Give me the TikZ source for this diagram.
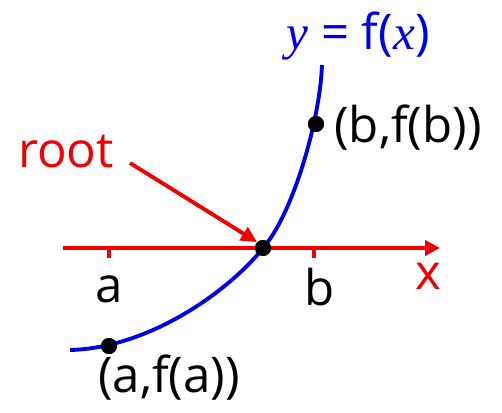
\documentclass[tikz,border=0pt]{standalone}
\usepackage{fontspec}
\setmainfont{Open Sans}
\newfontfamily\serifit{Liberation Serif}
\usetikzlibrary{arrows.meta}
\definecolor{myred}{RGB}{240,0,0}
\definecolor{myblue}{RGB}{0,0,230}
\begin{document}
\begin{tikzpicture}[x=0.02cm,y=-0.02cm,
  lbl/.style={inner sep=0pt,font=\fontsize{28}{32}\selectfont},
  dot/.style={circle,fill=black,inner sep=0pt,minimum size=0.32cm},
  axis/.style={myred,line width=2.2pt},
  curve/.style={myblue,line width=2.2pt}]
\useasboundingbox (0,0) rectangle (502,412);
% axis
\coordinate (xl) at (63,248);
\coordinate (xr) at (440,248);
\draw[axis,-{Triangle[length=0.3cm,width=0.3cm]}] (xl) -- (xr);
\coordinate (ta) at (109,248);
\coordinate (tb) at (314,248);
\draw[axis] (ta) -- ++(0,10);
\draw[axis] (tb) -- ++(0,10);
% curve
\coordinate (c0) at (70,350);
\coordinate (c1) at (322,65);
% dots
\node[dot] (pa) at (109,346) {};
\node[dot] (pr) at (263,248) {};
\node[dot] (pb) at (316,124) {};
\draw[curve] (c0) .. controls (150,348) and (230,290) .. (pr.center)
  .. controls (293,214) and (320,120) .. (c1);
\node[dot] at (pa) {};
\node[dot] at (pr) {};
\node[dot] at (pb) {};
% labels
\node[lbl] (la) at (109,289) {a};
\node[lbl] (lb) at (320,287) {b};
\node[lbl,myred] (lx) at (428,276) {x};
\node[lbl,anchor=west] (lpb) at (334,128) {(b,f(b))};
\node[lbl,anchor=west] (lpa) at (98,378) {(a,f(a))};
\node[lbl,myblue] (ly) at (358,36) {{\serifit\itshape y} = f({\serifit\itshape x})};
\node[lbl,myred] (lroot) at (66,152) {root};
% arrow
\coordinate (as) at (130,163);
\draw[myred,line width=2.2pt,-{Triangle[length=0.32cm,width=0.3cm]}] (as) -- (pr.north west);
\end{tikzpicture}
\end{document}
